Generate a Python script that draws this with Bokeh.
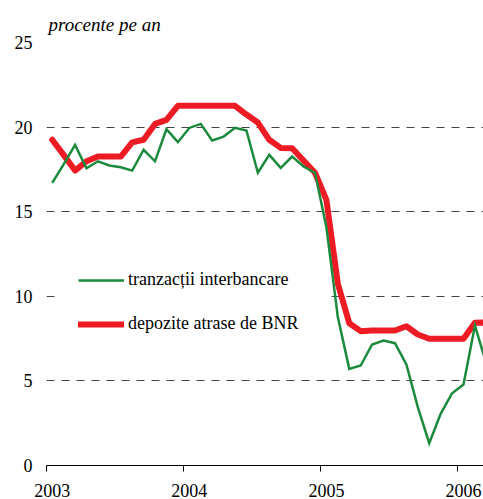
from bokeh.plotting import figure
from bokeh.models import FixedTicker, Legend, LegendItem, Range1d
from bokeh.embed import file_html
from bokeh.resources import INLINE

# ---- data ----
years = [2003, 2004, 2005, 2006]
year_labels = ["2003", "2004", "2005", "2006"]
y_ticks = [0, 5, 10, 15, 20, 25]
months = [f"{y}-{m:02d}" for y in years for m in range(1, 13)][:39]

interbank = [16.7, 17.8, 18.95, 17.57, 17.98, 17.73, 17.63, 17.43, 18.66, 17.98, 19.88, 19.11,
             19.95, 20.19, 19.21, 19.44, 19.96, 19.8, 17.3, 18.36, 17.59, 18.26, 17.67, 17.3,
             14.08, 8.77, 5.71, 5.91, 7.15, 7.39, 7.23, 5.97, 3.45, 1.32, 3.05, 4.27,
             4.79, 8.27, 6.0]
deposits = [19.25, 18.36, 17.43, 17.98, 18.26, 18.26, 18.26, 19.1, 19.25, 20.19, 20.43, 21.26,
            21.26, 21.26, 21.26, 21.26, 21.26, 20.74, 20.27, 19.25, 18.77, 18.75, 18.03, 17.3,
            15.7, 10.74, 8.41, 7.94, 7.98, 7.98, 7.98, 8.23, 7.74, 7.49, 7.49, 7.49,
            7.49, 8.43, 8.45]

label_interbank = "tranzacții interbancare"
label_deposits = "depozite atrase de BNR"
title_text = "procente pe an"

GREEN = "#1B8A3C"
RED = "#ED1C24"
FONT = "Liberation Serif"

x = [int(s[:4]) + (int(s[5:]) - 1) / 12 for s in months]

x0 = 2003 - 0.5 / 12
p = figure(width=483, height=499, output_backend="svg", toolbar_location=None,
           x_range=Range1d(x0, x0 + 437 / 137.1), y_range=Range1d(0, 25),
           min_border_left=46, min_border_right=0, min_border_top=42, min_border_bottom=34)
p.outline_line_color = None
p.background_fill_color = "white"
p.border_fill_color = "white"

p.title.text = title_text
p.title.text_font = FONT
p.title.text_font_style = "italic"
p.title.text_font_size = "19px"
p.title.text_color = "black"
p.title.align = "left"
p.title.offset = 2
p.title.standoff = 16

p.xgrid.grid_line_color = None
p.ygrid.ticker = FixedTicker(ticks=y_ticks)
p.ygrid.grid_line_color = "#444444"
p.ygrid.grid_line_dash = "8 7"
p.ygrid.grid_line_width = 1

p.yaxis.ticker = FixedTicker(ticks=y_ticks)
p.yaxis.axis_line_color = None
p.yaxis.major_tick_line_color = None
p.yaxis.minor_tick_line_color = None
p.yaxis.major_tick_out = 0
p.yaxis.major_tick_in = 0
p.yaxis.major_label_standoff = 14
p.yaxis.major_label_text_font = FONT
p.yaxis.major_label_text_font_size = "18px"
p.yaxis.major_label_text_color = "black"

p.xaxis.ticker = FixedTicker(ticks=years, minor_ticks=[yr - 0.5 / 12 for yr in years])
p.xaxis.major_label_overrides = {yr: lbl for yr, lbl in zip(years, year_labels)}
p.xaxis.axis_line_color = "black"
p.xaxis.axis_line_width = 1.2
p.xaxis.major_tick_line_color = None
p.xaxis.major_tick_out = 0
p.xaxis.major_tick_in = 0
p.xaxis.minor_tick_line_color = "black"
p.xaxis.minor_tick_in = 0
p.xaxis.minor_tick_out = 6
p.xaxis.major_label_standoff = 12
p.xaxis.major_label_text_font = FONT
p.xaxis.major_label_text_font_size = "18px"
p.xaxis.major_label_text_color = "black"

r_red = p.line(x, deposits, line_color=RED, line_width=6, line_join="round", line_cap="round")
r_green = p.line(x, interbank, line_color=GREEN, line_width=2.5, line_join="miter")

legend = Legend(items=[LegendItem(label=label_interbank, renderers=[r_green]),
                       LegendItem(label=label_deposits, renderers=[r_red])],
                location=(9, 108), orientation="vertical", padding=22, margin=0, spacing=23,
                glyph_width=46, glyph_height=20, label_height=20, label_width=174,
                label_standoff=4,
                label_text_font=FONT, label_text_font_size="18px",
                label_text_color="black",
                border_line_color="white", background_fill_color="white", background_fill_alpha=1.0)
p.add_layout(legend, "center")

open("out.html", "w").write(file_html(p, INLINE))
